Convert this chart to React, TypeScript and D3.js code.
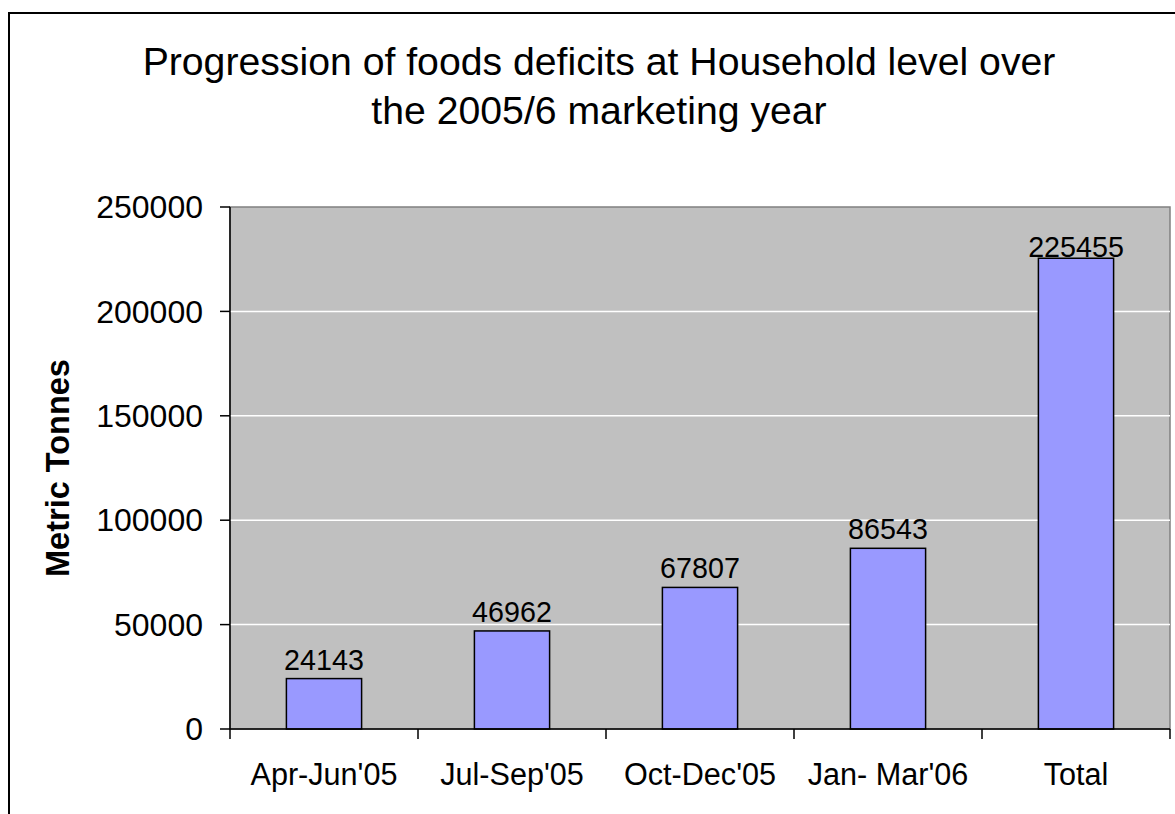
import React from 'react';
import * as d3 from 'd3';

// Данные
const categories = ["Apr-Jun'05", "Jul-Sep'05", "Oct-Dec'05", "Jan- Mar'06", 'Total'];
const deficits = [24143, 46962, 67807, 86543, 225455];
const yTicks = [0, 50000, 100000, 150000, 200000, 250000];
const titleLines = ['Progression of foods deficits at Household level over', 'the 2005/6 marketing year'];
const yTitle = 'Metric Tonnes';

const W = 1175;
const H = 814;
const plot = { left: 230, right: 1170, top: 207, bottom: 729 };
const font = 'Arial, "Liberation Sans", Helvetica, sans-serif';

export default function App() {
  const x = d3.scaleBand<string>()
    .domain(categories)
    .range([plot.left, plot.right])
    .paddingInner(0)
    .paddingOuter(0);
  const y = d3.scaleLinear()
    .domain([0, 250000])
    .range([plot.bottom, plot.top]);

  const bw = x.bandwidth() / 2.5; // ширина зазора 150%
  const boundaries = [...categories.map(c => x(c) as number), plot.right];

  // Подпись над столбцом, но не выше, чем позволяет область построения
  const labelY = (v: number) => Math.max(y(v) - 9, plot.top + 50);

  return (
    <svg
      width={W}
      height={H}
      viewBox={`0 0 ${W} ${H}`}
      style={{ position: 'absolute', left: 0, top: 0, display: 'block', background: '#fff' }}
      fontFamily={font}
    >
      {/* Внешняя рамка диаграммы */}
      <rect x={9} y={13} width={W + 20} height={H + 20} fill="#fff" stroke="#000" strokeWidth={2} />

      {/* Заголовок */}
      {titleLines.map((t, i) => (
        <text key={t} x={599} y={75 + i * 49} textAnchor="middle" fontSize={39.2} fill="#000">
          {t}
        </text>
      ))}

      {/* Область построения */}
      <rect
        x={plot.left}
        y={plot.top}
        width={plot.right - plot.left}
        height={plot.bottom - plot.top}
        fill="#c0c0c0"
        stroke="#808080"
        strokeWidth={1.5}
      />

      {/* Сетка */}
      {yTicks.filter(v => v > 0 && v < 250000).map(v => (
        <line key={v} x1={plot.left} x2={plot.right} y1={y(v)} y2={y(v)} stroke="#fff" strokeWidth={1.5} />
      ))}

      {/* Столбцы */}
      {categories.map((c, i) => {
        const cx = (x(c) as number) + x.bandwidth() / 2;
        return (
          <g key={c}>
            <rect
              x={cx - bw / 2}
              y={y(deficits[i])}
              width={bw}
              height={y(0) - y(deficits[i])}
              fill="#9999ff"
              stroke="#000"
              strokeWidth={1.5}
            />
            <text x={cx} y={labelY(deficits[i])} textAnchor="middle" fontSize={28.7} fill="#000">
              {deficits[i]}
            </text>
          </g>
        );
      })}

      {/* Ось Y */}
      <line x1={plot.left} x2={plot.left} y1={plot.top} y2={plot.bottom} stroke="#000" strokeWidth={1.5} />
      {yTicks.map(v => (
        <g key={v}>
          <line x1={plot.left - 10} x2={plot.left} y1={y(v)} y2={y(v)} stroke="#000" strokeWidth={1.5} />
          <text x={plot.left - 27} y={y(v)} dy="0.35em" textAnchor="end" fontSize={32} fill="#000">
            {v}
          </text>
        </g>
      ))}

      {/* Ось X */}
      <line x1={plot.left} x2={plot.right} y1={plot.bottom} y2={plot.bottom} stroke="#000" strokeWidth={1.5} />
      {boundaries.map(b => (
        <line key={b} x1={b} x2={b} y1={plot.bottom} y2={plot.bottom + 10} stroke="#000" strokeWidth={1.5} />
      ))}
      {categories.map(c => (
        <text
          key={c}
          x={(x(c) as number) + x.bandwidth() / 2}
          y={785}
          textAnchor="middle"
          fontSize={30.6}
          fill="#000"
        >
          {c}
        </text>
      ))}

      {/* Подпись оси Y */}
      <text
        transform={`translate(69, ${(plot.top + plot.bottom) / 2}) rotate(-90)`}
        textAnchor="middle"
        fontSize={32.5}
        fontWeight="bold"
        fill="#000"
      >
        {yTitle}
      </text>
    </svg>
  );
}
